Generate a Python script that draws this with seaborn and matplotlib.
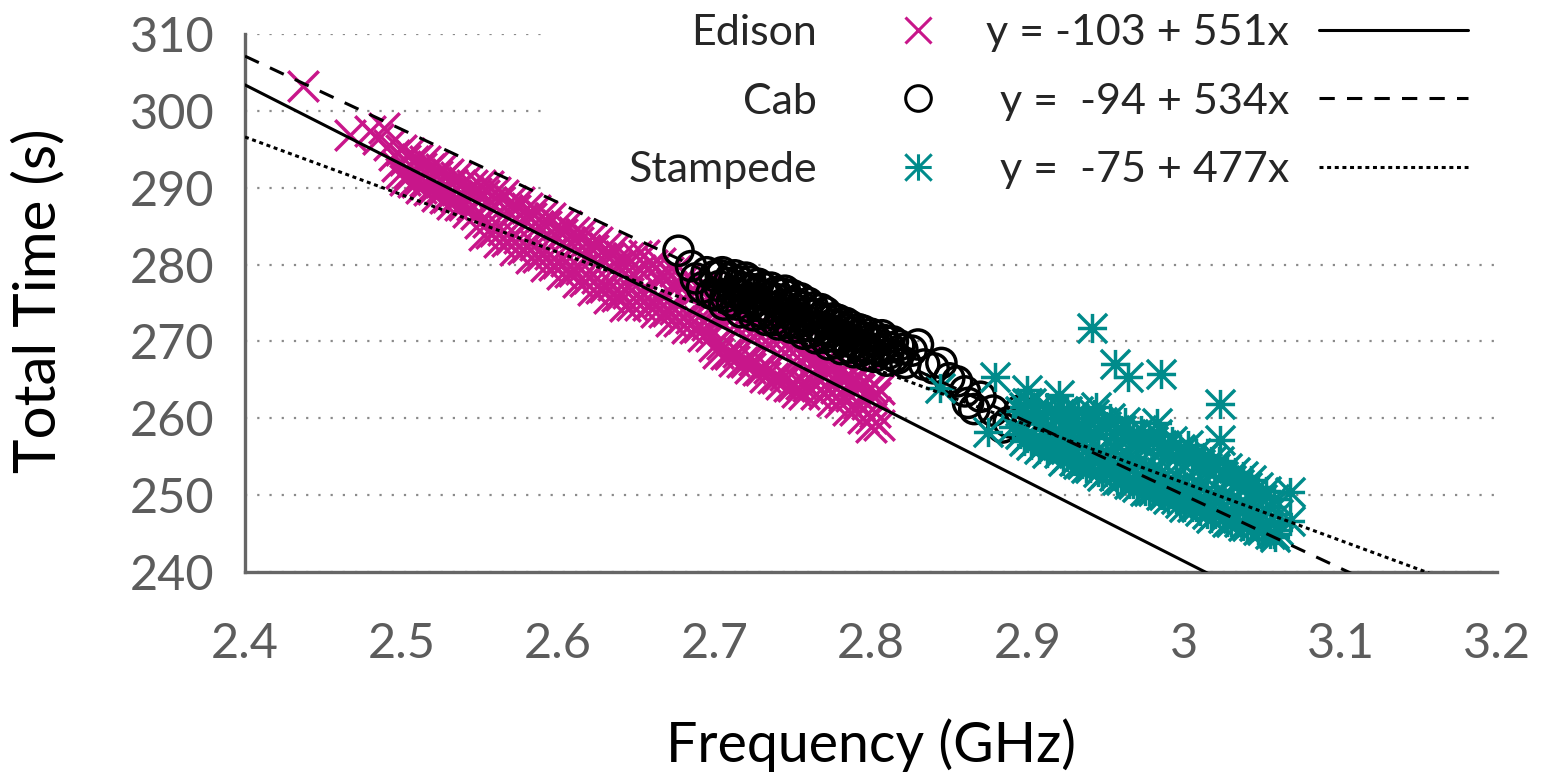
import matplotlib
matplotlib.use("Agg")
import matplotlib.pyplot as plt
import seaborn as sns
import numpy as np
import pandas as pd
from matplotlib.path import Path
from matplotlib.markers import MarkerStyle
from matplotlib.lines import Line2D
from matplotlib.patches import Rectangle

# ---------------- data ----------------
series_names = ["Edison", "Cab", "Stampede"]
fit_labels = ["y = -103 + 551x", "y =  -94 + 534x", "y =  -75 + 477x"]
# fitted lines as drawn in the picture (time = intercept + slope * frequency)
fit_intercept = [551.3, 535.6, 476.6]
fit_slope = [-103.3, -95.2, -75.0]

x_ticks = [2.4, 2.5, 2.6, 2.7, 2.8, 2.9, 3.0, 3.1, 3.2]
x_tick_labels = ["2.4", "2.5", "2.6", "2.7", "2.8", "2.9", "3", "3.1", "3.2"]
y_ticks = [240, 250, 260, 270, 280, 290, 300, 310]
y_tick_labels = ["240", "250", "260", "270", "280", "290", "300", "310"]

edison_freq = [
    2.437, 2.467, 2.480, 2.485, 2.489, 2.492, 2.495, 2.497, 2.800,
    2.5000, 2.5000, 2.5025, 2.5025, 2.5050, 2.5050, 2.5075, 2.5075,
    2.5100, 2.5100, 2.5125, 2.5125, 2.5150, 2.5150, 2.5175, 2.5175,
    2.5200, 2.5200, 2.5225, 2.5225, 2.5250, 2.5250, 2.5275, 2.5275,
    2.5300, 2.5300, 2.5325, 2.5325, 2.5350, 2.5350, 2.5375, 2.5375,
    2.5400, 2.5400, 2.5425, 2.5425, 2.5450, 2.5450, 2.5475, 2.5475,
    2.5500, 2.5500, 2.5525, 2.5525, 2.5550, 2.5550, 2.5575, 2.5575,
    2.5600, 2.5600, 2.5625, 2.5625, 2.5650, 2.5650, 2.5675, 2.5675,
    2.5700, 2.5700, 2.5725, 2.5725, 2.5750, 2.5750, 2.5775, 2.5775,
    2.5800, 2.5800, 2.5825, 2.5825, 2.5850, 2.5850, 2.5875, 2.5875,
    2.5900, 2.5900, 2.5925, 2.5925, 2.5950, 2.5950, 2.5975, 2.5975,
    2.6000, 2.6000, 2.6025, 2.6025, 2.6050, 2.6050, 2.6075, 2.6075,
    2.6100, 2.6100, 2.6125, 2.6125, 2.6150, 2.6150, 2.6175, 2.6175,
    2.6200, 2.6200, 2.6225, 2.6225, 2.6250, 2.6250, 2.6275, 2.6275,
    2.6300, 2.6300, 2.6325, 2.6325, 2.6350, 2.6350, 2.6375, 2.6375,
    2.6400, 2.6400, 2.6425, 2.6425, 2.6450, 2.6450, 2.6475, 2.6475,
    2.6500, 2.6500, 2.6525, 2.6525, 2.6550, 2.6550, 2.6575, 2.6575,
    2.6600, 2.6600, 2.6625, 2.6625, 2.6650, 2.6650, 2.6675, 2.6675,
    2.6700, 2.6700, 2.6725, 2.6725, 2.6750, 2.6750, 2.6775, 2.6775,
    2.6800, 2.6800, 2.6825, 2.6825, 2.6850, 2.6850, 2.6875, 2.6875,
    2.6900, 2.6900, 2.6925, 2.6925, 2.6950, 2.6950, 2.6975, 2.6975,
    2.7000, 2.7000, 2.7025, 2.7025, 2.7050, 2.7050, 2.7075, 2.7075,
    2.7100, 2.7100, 2.7125, 2.7125, 2.7150, 2.7150, 2.7175, 2.7175,
    2.7200, 2.7200, 2.7225, 2.7225, 2.7250, 2.7250, 2.7275, 2.7275,
    2.7300, 2.7300, 2.7325, 2.7325, 2.7350, 2.7350, 2.7375, 2.7375,
    2.7400, 2.7400, 2.7425, 2.7425, 2.7450, 2.7450, 2.7475, 2.7475,
    2.7500, 2.7500, 2.7525, 2.7525, 2.7550, 2.7550, 2.7575, 2.7575,
    2.7600, 2.7600, 2.7625, 2.7625, 2.7650, 2.7650, 2.7675, 2.7675,
    2.7700, 2.7700, 2.7725, 2.7725, 2.7750, 2.7750, 2.7775, 2.7775,
    2.7800, 2.7800, 2.7825, 2.7825, 2.7850, 2.7850, 2.7875, 2.7875,
    2.7900, 2.7900, 2.7925, 2.7925, 2.7950, 2.7950, 2.7975, 2.7975,
    2.8000, 2.8000, 2.8025, 2.8025, 2.8050, 2.8050,
]
edison_time = [
    303.2, 296.8, 297.4, 296.4, 297.8, 295.6, 294.3, 292.8, 258.9,
    294.9, 291.9, 293.6, 291.0, 294.5, 291.9, 293.5, 290.8,
    293.8, 290.8, 292.6, 290.0, 293.5, 290.9, 292.4, 289.7,
    292.8, 289.8, 291.5, 288.9, 292.5, 289.9, 291.4, 288.7,
    291.8, 288.8, 290.5, 287.9, 291.4, 288.8, 290.4, 287.7,
    290.7, 287.7, 289.5, 286.9, 290.4, 287.8, 289.3, 286.6,
    290.4, 285.4, 289.1, 283.9, 290.2, 285.6, 288.1, 284.1,
    289.4, 284.4, 288.1, 282.9, 289.1, 284.5, 287.1, 283.1,
    288.3, 283.3, 287.1, 281.9, 288.1, 283.5, 286.0, 282.0,
    287.3, 282.3, 286.0, 280.8, 287.1, 282.5, 285.0, 281.0,
    286.3, 281.3, 285.0, 279.8, 286.0, 281.4, 284.0, 280.0,
    285.2, 280.2, 284.0, 278.8, 285.0, 280.4, 283.0, 279.0,
    284.2, 279.2, 282.9, 277.7, 284.0, 279.4, 281.9, 277.9,
    283.2, 278.2, 281.9, 276.7, 282.9, 278.3, 280.9, 276.9,
    282.1, 277.1, 280.9, 275.7, 281.9, 277.3, 279.9, 275.9,
    281.1, 276.1, 279.8, 274.6, 280.9, 276.3, 278.8, 274.8,
    281.1, 276.1, 279.3, 274.8, 281.2, 276.2, 279.6, 274.8,
    280.0, 275.0, 278.3, 273.8, 280.2, 275.2, 278.6, 273.8,
    279.0, 274.0, 277.2, 272.7, 279.2, 274.2, 277.5, 272.7,
    278.0, 273.0, 276.2, 271.7, 278.1, 273.1, 276.5, 271.7,
    276.9, 271.9, 275.2, 270.7, 277.1, 272.1, 275.5, 270.7,
    274.9, 269.4, 273.1, 268.5, 274.9, 269.7, 273.1, 268.3,
    273.9, 268.4, 272.1, 267.5, 273.8, 268.6, 272.1, 267.3,
    272.8, 267.3, 271.1, 266.5, 272.8, 267.6, 271.1, 266.3,
    271.8, 266.3, 270.0, 265.4, 271.8, 266.6, 270.0, 265.2,
    270.8, 265.3, 269.0, 264.4, 270.8, 265.6, 269.0, 264.2,
    269.7, 264.2, 268.0, 263.4, 269.7, 264.5, 268.0, 263.2,
    268.0, 264.2, 266.9, 264.9, 267.9, 263.2, 266.8, 264.9,
    267.0, 263.2, 265.9, 263.9, 266.9, 262.2, 265.8, 263.9,
    265.9, 262.1, 264.9, 262.9, 265.8, 261.1, 264.8, 262.9,
    264.9, 261.1, 263.8, 261.8, 264.8, 260.1, 263.7, 261.8,
    263.9, 260.1, 262.8, 260.8, 263.8, 259.1,
]

cab_freq = [
    2.677, 2.685, 2.688, 2.692, 2.695, 2.698, 2.700, 2.703, 2.705, 2.707,
    2.710, 2.712, 2.714, 2.716, 2.718, 2.720, 2.722, 2.724, 2.726, 2.728,
    2.730, 2.732, 2.734, 2.736, 2.738, 2.740, 2.742, 2.744, 2.746, 2.748,
    2.750, 2.752, 2.754, 2.756, 2.758, 2.760, 2.762, 2.764, 2.766, 2.768,
    2.770, 2.772, 2.774, 2.776, 2.778, 2.780, 2.782, 2.784, 2.786, 2.788,
    2.790, 2.792, 2.794, 2.796, 2.798, 2.800, 2.802, 2.804, 2.806, 2.808,
    2.810, 2.812, 2.815, 2.818, 2.822, 2.826, 2.830, 2.834, 2.840, 2.845,
    2.850, 2.855, 2.860, 2.862, 2.866, 2.870, 2.878, 2.884, 2.888, 2.895,
    2.701, 2.704, 2.706, 2.709, 2.711, 2.713, 2.715, 2.717, 2.719, 2.721,
    2.723, 2.725, 2.727, 2.729, 2.731, 2.733, 2.735, 2.737, 2.739, 2.741,
    2.743, 2.745, 2.747, 2.749, 2.751, 2.753, 2.755, 2.757, 2.759, 2.761,
    2.763, 2.765, 2.767, 2.769, 2.771, 2.773, 2.775, 2.777, 2.779, 2.781,
    2.783, 2.785, 2.787, 2.789, 2.791, 2.793, 2.795, 2.797, 2.799, 2.803,
    2.807, 2.811, 2.814, 2.817, 2.820,
]
cab_time = [
    281.8, 279.8, 278.2, 277.0, 279.0, 276.2, 278.5, 277.2, 279.0, 275.8,
    278.2, 276.5, 274.8, 277.8, 276.0, 278.3, 274.5, 276.8, 275.2, 277.5,
    273.8, 276.0, 274.5, 277.0, 272.8, 275.5, 273.8, 276.2, 272.5, 274.8,
    276.0, 273.2, 271.8, 274.5, 272.8, 275.0, 271.2, 273.5, 272.0, 274.2,
    270.5, 272.8, 271.2, 273.0, 269.8, 272.0, 270.5, 272.4, 269.2, 271.2,
    269.8, 271.6, 268.8, 270.5, 269.2, 271.0, 268.0, 270.0, 268.8, 270.2,
    267.5, 269.2, 268.0, 269.5, 267.2, 268.8, 269.6, 267.0, 266.5, 267.2,
    265.2, 264.8, 263.5, 262.0, 261.2, 262.8, 261.0, 258.8, 259.5, 261.0,
    276.0, 278.6, 274.8, 277.6, 275.2, 278.6, 276.2, 273.8, 277.0, 275.6,
    277.8, 273.4, 276.4, 274.6, 277.0, 272.8, 275.8, 273.6, 276.4, 272.2,
    274.8, 276.6, 273.6, 271.8, 275.0, 272.4, 275.6, 271.0, 273.8, 272.0,
    274.4, 270.4, 273.0, 271.6, 273.8, 269.6, 272.2, 270.6, 272.8, 269.0,
    271.6, 270.0, 272.0, 268.6, 270.8, 269.4, 271.4, 268.2, 270.2, 269.0,
    270.8, 268.4, 270.0, 267.8, 269.0,
]

stampede_freq = [
    2.844, 2.875, 2.879, 2.891, 2.900, 2.920, 2.941, 2.944, 2.956, 2.964,
    2.983, 2.985, 3.023, 3.023, 3.068, 3.068, 3.058,
    2.895, 2.895, 2.900, 2.900, 2.900, 2.905, 2.905,
    2.910, 2.910, 2.910, 2.915, 2.915, 2.915, 2.920, 2.920, 2.920,
    2.925, 2.925, 2.925, 2.930, 2.930, 2.930, 2.935, 2.935, 2.935,
    2.940, 2.940, 2.940, 2.945, 2.945, 2.945, 2.950, 2.950, 2.950,
    2.955, 2.955, 2.955, 2.960, 2.960, 2.960, 2.965, 2.965, 2.965,
    2.970, 2.970, 2.970, 2.975, 2.975, 2.975, 2.980, 2.980, 2.980,
    2.985, 2.985, 2.985, 2.990, 2.990, 2.990, 2.995, 2.995, 2.995,
    3.000, 3.000, 3.000, 3.005, 3.005, 3.005, 3.010, 3.010, 3.010,
    3.015, 3.015, 3.015, 3.020, 3.020, 3.020, 3.025, 3.025, 3.025,
    3.030, 3.030, 3.030, 3.035, 3.035, 3.035, 3.040, 3.040, 3.040,
    3.045, 3.045, 3.045, 3.050, 3.050, 3.050, 3.055, 3.055, 3.060, 3.060,
    2.8975, 2.8975, 2.9025, 2.9025, 2.9075, 2.9075, 2.9125, 2.9125,
    2.9175, 2.9175, 2.9225, 2.9225, 2.9275, 2.9275, 2.9325, 2.9325,
    2.9375, 2.9375, 2.9425, 2.9425, 2.9475, 2.9475, 2.9525, 2.9525,
    2.9575, 2.9575, 2.9625, 2.9625, 2.9675, 2.9675, 2.9725, 2.9725,
    2.9775, 2.9775, 2.9825, 2.9825, 2.9875, 2.9875, 2.9925, 2.9925,
    2.9975, 2.9975, 3.0025, 3.0025, 3.0075, 3.0075, 3.0125, 3.0125,
    3.0175, 3.0175, 3.0225, 3.0225, 3.0275, 3.0275, 3.0325, 3.0325,
    3.0375, 3.0375, 3.0425, 3.0425, 3.0475, 3.0475, 3.0525, 3.0525,
    3.0575, 3.0575,
]
stampede_time = [
    264.0, 258.2, 265.4, 258.9, 263.7, 263.0, 271.8, 261.5, 267.0, 265.4,
    259.4, 265.7, 261.8, 257.2, 250.4, 246.6, 244.6,
    261.0, 258.0, 260.5, 257.5, 262.0, 261.0, 257.0,
    260.0, 256.5, 258.5, 261.0, 256.0, 258.0, 260.5, 255.5, 257.5,
    259.5, 255.0, 261.0, 260.0, 254.5, 257.0, 259.0, 254.0, 256.5,
    259.5, 253.5, 257.5, 258.5, 253.0, 256.0, 259.0, 253.0, 255.5,
    258.0, 252.5, 256.0, 258.5, 252.0, 254.5, 257.5, 251.5, 255.0,
    257.0, 251.0, 254.0, 256.5, 250.5, 253.5, 257.0, 250.5, 253.0,
    256.0, 250.0, 253.0, 255.5, 249.5, 252.0, 255.0, 249.5, 252.5,
    255.0, 248.5, 251.5, 254.5, 248.5, 251.0, 254.0, 248.0, 251.0,
    253.5, 247.5, 250.5, 253.5, 247.5, 250.0, 252.5, 247.0, 250.0,
    252.0, 246.5, 249.5, 251.5, 246.5, 249.0, 251.0, 246.0, 248.5,
    250.5, 246.0, 248.0, 249.5, 245.5, 247.5, 248.5, 245.0, 247.5, 245.5,
    261.5, 257.0, 262.0, 256.5, 260.5, 256.0, 261.5, 255.5,
    260.0, 256.5, 261.0, 254.5, 259.5, 255.5, 261.0, 254.0,
    260.0, 253.5, 260.5, 254.5, 259.5, 252.5, 260.0, 253.5,
    258.5, 252.0, 259.5, 253.0, 258.0, 251.5, 258.5, 252.5,
    257.5, 250.5, 258.0, 251.5, 256.5, 250.0, 257.0, 250.5,
    256.0, 249.0, 256.5, 250.0, 255.5, 248.5, 255.0, 249.0,
    254.5, 247.0, 254.5, 248.0, 253.5, 246.5, 253.0, 247.5,
    252.5, 246.0, 252.0, 246.5, 251.0, 245.5, 250.5, 246.0,
    249.5, 245.0,
]

x_range = [2.4, 3.2]
y_range = [240, 310]

# ---------------- style ----------------
MAGENTA = "#C8168A"
TEAL = "#008B8B"
GREY = "#666666"
TICKGREY = "#5c5c5c"

sns.set_style("white")
plt.rcParams["font.family"] = ["Lato", "DejaVu Sans"]

fig = plt.figure(figsize=(15.46, 7.74), dpi=100)
ax = fig.add_axes([0.15847, 0.26098, 0.80983, 0.69509])

# gnuplot-style asterisk: "+" overlaid with "x"
ast_path = Path(
    [(-1, 0), (1, 0), (0, -1), (0, 1), (-1, -1), (1, 1), (-1, 1), (1, -1)],
    [Path.MOVETO, Path.LINETO] * 4,
)
ast_marker = MarkerStyle(ast_path)

LW = 2.5

sns.scatterplot(x=edison_freq, y=edison_time, ax=ax, marker="x", color=MAGENTA,
                s=22 ** 2, linewidth=LW, zorder=3, legend=False)
sns.scatterplot(x=cab_freq, y=cab_time, ax=ax, marker="o", color="black",
                facecolor="none", edgecolor="black", s=21 ** 2,
                linewidth=LW, zorder=3.2, legend=False)
sns.scatterplot(x=stampede_freq, y=stampede_time, ax=ax, marker=ast_marker,
                color=TEAL, facecolor=TEAL, edgecolor=TEAL, s=21 ** 2,
                linewidth=LW, zorder=3.4, legend=False)

# regression lines (drawn over the points, as in the original)
line_styles = ["-", (0, (5, 4)), (0, (1.3, 1.2))]
for a, b, ls in zip(fit_intercept, fit_slope, line_styles):
    xs = np.array(x_range)
    sns.lineplot(x=xs, y=a + b * xs, ax=ax, color="black", linewidth=2.2,
                 linestyle=ls, zorder=4, legend=False)

ax.set_xlim(*x_range)
ax.set_ylim(*y_range)
ax.set_xticks(x_ticks)
ax.set_xticklabels(x_tick_labels)
ax.set_yticks(y_ticks)
ax.set_yticklabels(y_tick_labels)

for side in ["top", "right"]:
    ax.spines[side].set_visible(False)
for side in ["left", "bottom"]:
    ax.spines[side].set_color(GREY)
    ax.spines[side].set_linewidth(2.4)

ax.tick_params(axis="both", direction="in", length=21, width=2.4, color=GREY,
               labelsize=35, labelcolor=TICKGREY)
ax.tick_params(axis="x", pad=36)
ax.tick_params(axis="y", pad=22)

ax.set_axisbelow(True)
ax.yaxis.grid(True, color="#8a8a8a", linestyle=(0, (1, 4.5)), linewidth=1.6)
ax.xaxis.grid(False)

ax.set_xlabel("Frequency (GHz)", fontsize=40, color="black")
ax.set_ylabel("Total Time (s)", fontsize=42, color="black")
ax.xaxis.set_label_coords(0.5, -0.322)
ax.yaxis.set_label_coords(-0.1645, 0.505)
ax.xaxis.label.set_verticalalignment("center")
ax.yaxis.label.set_verticalalignment("center")

# opaque key background
ax.add_patch(Rectangle((0.24, 0.70), 0.76, 0.32, transform=ax.transAxes,
                       facecolor="white", edgecolor="none", zorder=1.5,
                       clip_on=False))

# key: names + point types
MS = 19
marker_handles = [
    Line2D([], [], linestyle="None", marker="x", color=MAGENTA, markersize=MS,
           markeredgewidth=2.2),
    Line2D([], [], linestyle="None", marker="o", markerfacecolor="none",
           markeredgecolor="black", markersize=MS * 0.97, markeredgewidth=2.2),
    Line2D([], [], linestyle="None", marker=ast_marker, color=TEAL,
           markersize=MS, markeredgewidth=2.2),
]
leg1 = ax.legend(marker_handles, series_names, loc="upper right",
                 bbox_to_anchor=(937.5 / 1546, 0.982), bbox_transform=fig.transFigure,
                 frameon=False, markerfirst=False, fontsize=31, handlelength=0.9,
                 handletextpad=1.9, labelspacing=0.71, borderpad=0, borderaxespad=0)
ax.add_artist(leg1)

line_handles = [
    Line2D([], [], color="black", linewidth=2.2, linestyle=ls) for ls in line_styles
]
leg2 = ax.legend(line_handles, fit_labels, loc="upper right",
                 bbox_to_anchor=(1468 / 1546, 0.982), bbox_transform=fig.transFigure,
                 frameon=False, markerfirst=False, fontsize=31, handlelength=3.45,
                 handletextpad=0.7, labelspacing=0.71, borderpad=0, borderaxespad=0)

fig.savefig("out.png", dpi=100)
